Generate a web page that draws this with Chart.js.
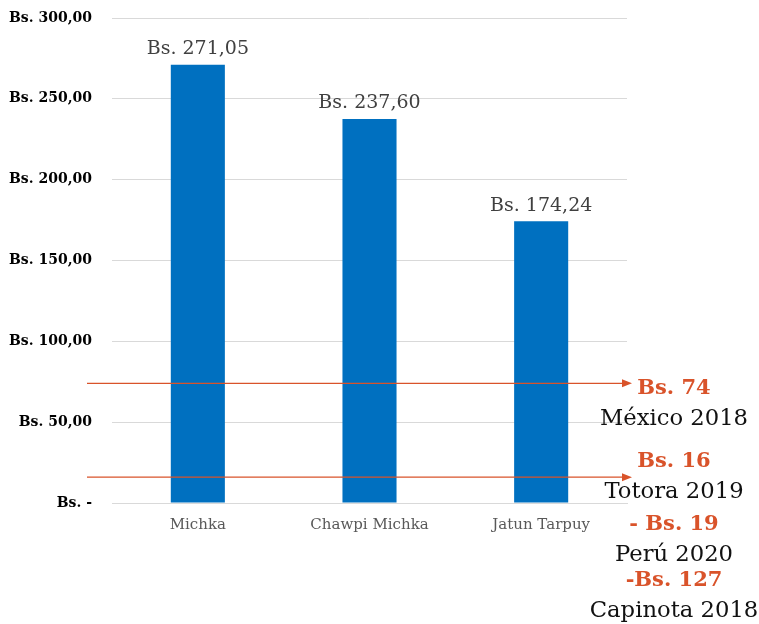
<!DOCTYPE html>
<html>
<head>
<meta charset="utf-8">
<script src="https://cdn.jsdelivr.net/npm/chart.js@4.4.1/dist/chart.umd.min.js"></script>
<style>
  html, body { margin: 0; padding: 0; background: #fff; }
  #wrap { width: 759px; height: 624px; }
</style>
</head>
<body>
<div id="wrap"><canvas id="myChart" width="759" height="624"></canvas></div>
<script>
// costos por comunidad
const comunidades = ['Michka', 'Chawpi Michka', 'Jatun Tarpuy'];
const costos = [271.05, 237.60, 174.24];

// referencias de otros estudios
const refMontos = ['Bs. 74', 'Bs. 16', '- Bs. 19', '-Bs. 127'];
const refLugares = ['México 2018', 'Totora 2019', 'Perú 2020', 'Capinota 2018'];
const refLineas = [74, 16];

const SERIF = '"DejaVu Serif", serif';
const NARANJA = '#D9532A';

const fmtBs = v => 'Bs. ' + v.toFixed(2).replace('.', ',');

// etiquetas sobre las barras
const barLabels = {
  id: 'barLabels',
  afterDatasetsDraw(chart) {
    const { ctx } = chart;
    const meta = chart.getDatasetMeta(0);
    ctx.save();
    ctx.font = '19px ' + SERIF;
    ctx.fillStyle = '#404040';
    ctx.textAlign = 'center';
    ctx.textBaseline = 'bottom';
    meta.data.forEach((bar, i) => {
      ctx.fillText(fmtBs(costos[i]), bar.x, bar.y - 6);
    });
    ctx.restore();
  }
};

// lineas de referencia con flecha y textos a la derecha
const referencias = {
  id: 'referencias',
  afterDraw(chart) {
    const { ctx } = chart;
    const y = chart.scales.y;
    const x0 = 87, x1 = 632;
    ctx.save();
    ctx.strokeStyle = NARANJA;
    ctx.fillStyle = NARANJA;
    ctx.lineWidth = 1.3;
    refLineas.forEach(v => {
      const py = y.getPixelForValue(v);
      ctx.beginPath();
      ctx.moveTo(x0, py);
      ctx.lineTo(x1 - 8, py);
      ctx.stroke();
      ctx.beginPath();
      ctx.moveTo(x1, py);
      ctx.lineTo(x1 - 10, py - 4);
      ctx.lineTo(x1 - 10, py + 4);
      ctx.closePath();
      ctx.fill();
    });

    const cx = 674;
    const filas = [389, 462, 525, 581];
    ctx.textAlign = 'center';
    ctx.textBaseline = 'middle';
    refMontos.forEach((txt, i) => {
      ctx.font = 'bold 21px ' + SERIF;
      ctx.fillStyle = NARANJA;
      ctx.fillText(txt, cx, filas[i]);
      ctx.font = '22.7px ' + SERIF;
      ctx.fillStyle = '#111';
      ctx.fillText(refLugares[i], cx, filas[i] + 30);
    });
    ctx.restore();
  }
};

new Chart(document.getElementById('myChart'), {
  type: 'bar',
  data: {
    labels: comunidades,
    datasets: [{
      data: costos,
      backgroundColor: '#0070C0',
      barPercentage: 0.315,
      categoryPercentage: 1
    }]
  },
  options: {
    responsive: false,
    animation: false,
    layout: { autoPadding: false, padding: { left: 8, right: 132, top: 18, bottom: 85 } },
    plugins: {
      legend: { display: false },
      tooltip: { enabled: false }
    },
    scales: {
      x: {
        grid: { display: false },
        border: { color: '#d9d9d9' },
        ticks: {
          color: '#595959',
          font: { family: SERIF, size: 15 },
          padding: 5
        }
      },
      y: {
        min: 0,
        max: 300,
        border: { display: false },
        grid: { color: '#d9d9d9', drawTicks: false },
        afterFit: scale => {
          scale.width = 104;
          scale.paddingTop = 0;
          scale.paddingBottom = 0;
        },
        ticks: {
          stepSize: 50,
          padding: 20,
          color: '#000',
          font: { family: SERIF, size: 14, weight: 'bold' },
          callback: v => v === 0 ? 'Bs. -' : fmtBs(v)
        }
      }
    }
  },
  plugins: [barLabels, referencias]
});
</script>
</body>
</html>
